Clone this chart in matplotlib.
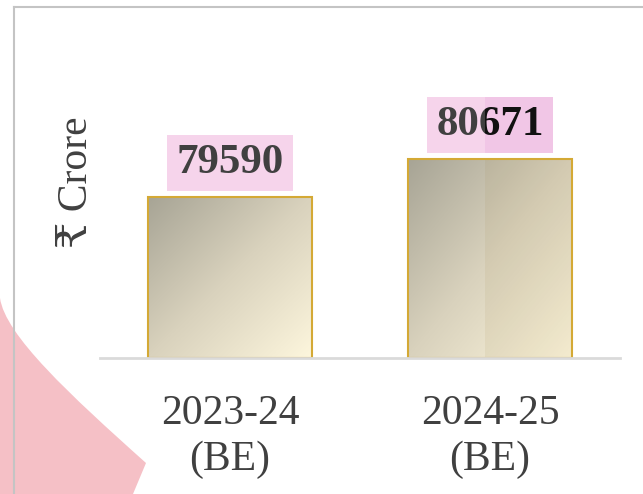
import numpy as np
import matplotlib.pyplot as plt
from matplotlib.colors import LinearSegmentedColormap
from matplotlib.patches import PathPatch, Rectangle
from matplotlib.path import Path
from matplotlib.lines import Line2D
from matplotlib.transforms import Bbox, TransformedBbox

# data
years = ["2023-24\n(BE)", "2024-25\n(BE)"]
values = [79590, 80671]
y_min, y_max = 75000, 85000

SERIF = ['Liberation Serif', 'DejaVu Serif', 'DejaVu Sans']
TEXT_C = '#404040'
SPLIT_X = 0.98   # screenshot seam on the second bar

fig = plt.figure(figsize=(6.43, 4.94), dpi=100)
fig.patch.set_facecolor('white')

# pink decoration bottom-left (figure coords, px converted)
W, H = 643.0, 494.0
def fpt(px, py):
    return (px / W, 1 - py / H)

verts = [fpt(0, 298), fpt(5, 335), fpt(70, 395), fpt(146, 463),
         fpt(133, 494), fpt(0, 494), fpt(0, 298)]
codes = [Path.MOVETO, Path.CURVE4, Path.CURVE4, Path.CURVE4,
         Path.LINETO, Path.LINETO, Path.CLOSEPOLY]
fig.patches.append(PathPatch(Path(verts, codes), facecolor='#f5c0c6', edgecolor='none',
                             transform=fig.transFigure, zorder=0))
# frame lines
fig.lines.append(Line2D([14 / W, 14 / W], [0, 1 - 7 / H], color='#c4c4c4', lw=1.5,
                        transform=fig.transFigure, zorder=1))
fig.lines.append(Line2D([14 / W, 1], [1 - 7 / H, 1 - 7 / H], color='#c4c4c4', lw=1.5,
                        transform=fig.transFigure, zorder=1))

ax = fig.add_axes([100 / W, 136 / H, 520 / W, 351 / H])
ax.set_facecolor('none')
x = np.arange(len(values))
bars = ax.bar(x, [v - y_min for v in values], bottom=y_min, width=0.63,
              facecolor='none', edgecolor='#d4a935', linewidth=1.5, zorder=3)

cmap = LinearSegmentedColormap.from_list('bar', ['#a7a495', '#d9d2bd', '#fdf6dd'])
gx, gy = np.meshgrid(np.linspace(0, 1, 200), np.linspace(0, 1, 200))
grad = (gx + gy) / 2.0   # top-left dark -> bottom-right light (origin upper)
for b in bars:
    bx, by, bw, bh = b.get_x(), b.get_y(), b.get_width(), b.get_height()
    im = ax.imshow(grad, cmap=cmap, extent=(bx, bx + bw, by, by + bh),
                   aspect='auto', origin='upper', zorder=2, interpolation='bilinear')
    im.set_clip_path(b)

# darker seam overlay on right part of second bar
b2 = bars[1]
ov = Rectangle((SPLIT_X, b2.get_y()), b2.get_x() + b2.get_width() - SPLIT_X,
               b2.get_height(), facecolor='#9a8040', alpha=0.09, edgecolor='none', zorder=2.5)
ax.add_patch(ov)

# value labels
lbl = dict(xytext=(0, 11), textcoords='offset points', ha='center', va='bottom',
           fontsize=31, fontweight='bold', family=SERIF)
for i, (xi, v) in enumerate(zip(x, values)):
    ax.annotate(f"{v}", (xi, v), color=TEXT_C, zorder=5,
                bbox=dict(boxstyle='square,pad=0.21', facecolor='#f6d4eb', edgecolor='none'),
                **lbl)
    if i == 1:
        t = ax.annotate(f"{v}", (xi, v), color='#111111', zorder=6,
                        bbox=dict(boxstyle='square,pad=0.21', facecolor='#f1c6e6', edgecolor='none'),
                        annotation_clip=False, **lbl)
        t.set_clip_box(TransformedBbox(Bbox([[SPLIT_X, y_min], [1.6, y_max]]), ax.transData))
        t.set_clip_on(True)

ax.set_xlim(-0.5, 1.5)
ax.set_ylim(y_min, y_max)
ax.set_xticks(x)
ax.set_xticklabels(years, fontsize=30, family=SERIF, color=TEXT_C, linespacing=1.27)
ax.tick_params(axis='x', length=0, pad=26)
ax.set_yticks([])
ax.set_ylabel("₹ Crore", fontsize=30, family=SERIF, color=TEXT_C, labelpad=3)
for s in ['top', 'left', 'right']:
    ax.spines[s].set_visible(False)
ax.spines['bottom'].set_color('#dadada')
ax.spines['bottom'].set_linewidth(2)
ax.spines['bottom'].set_zorder(4)

fig.savefig('out.png', dpi=100)
